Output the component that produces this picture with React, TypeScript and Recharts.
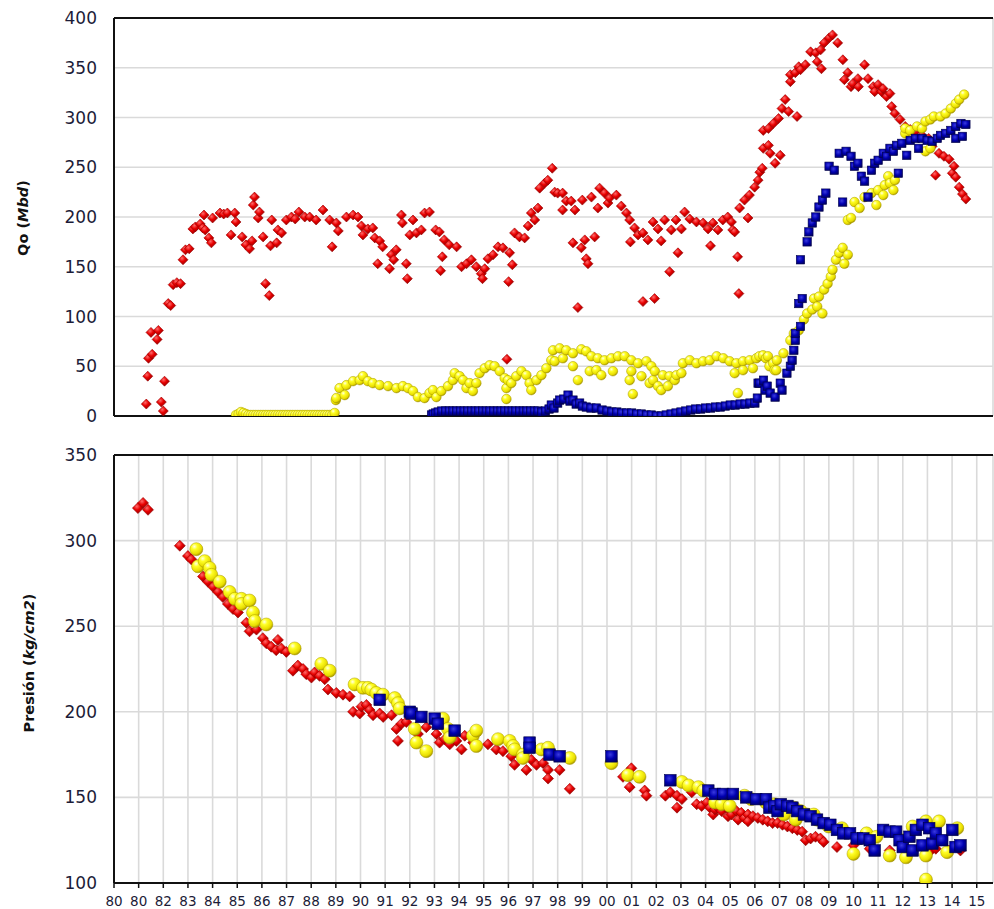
import React from 'react'
import { ScatterChart, Scatter, XAxis, YAxis, CartesianGrid, ReferenceLine } from 'recharts'

// shared x axis (years), labels as printed on the original
const X_TICKS = [1980, 1981, 1982, 1983, 1984, 1985, 1986, 1987, 1988, 1989, 1990, 1991, 1992, 1993, 1994, 1995, 1996, 1997, 1998, 1999, 2000, 2001, 2002, 2003, 2004, 2005, 2006, 2007, 2008, 2009, 2010, 2011, 2012, 2013, 2014, 2015]
const X_LABELS = ['80', '80', '82', '83', '84', '85', '86', '87', '88', '89', '90', '91', '92', '93', '94', '95', '96', '97', '98', '99', '00', '01', '02', '03', '04', '05', '06', '07', '08', '09', '10', '11', '12', '13', '14', '15']
const QO_TICKS = [0, 50, 100, 150, 200, 250, 300, 350, 400]
const P_TICKS = [100, 150, 200, 250, 300, 350]

// Qo (Mbd) - [year, value]
const QO_RED: number[][] = [
  [1981.31, 12], [1981.37, 40], [1981.4, 58], [1981.55, 62], [1981.5, 84], [1981.75, 77], [1981.8, 86], [1981.92, 14], [1982.0, 5], [1982.05, 35],
  [1982.2, 113], [1982.3, 111], [1982.4, 132], [1982.55, 134], [1982.7, 133], [1982.8, 157], [1982.9, 167], [1983.05, 168], [1983.2, 188], [1983.3, 190],
  [1983.5, 193], [1983.6, 189], [1983.65, 202], [1983.7, 187], [1983.85, 179], [1983.95, 174], [1984.0, 199], [1984.3, 204], [1984.45, 203], [1984.6, 204],
  [1984.75, 182], [1984.9, 204], [1984.95, 195], [1985.2, 180], [1985.35, 172], [1985.5, 168], [1985.6, 176], [1985.65, 212], [1985.7, 220], [1985.85, 199],
  [1985.9, 205], [1986.05, 180], [1986.15, 133], [1986.3, 121], [1986.35, 171], [1986.4, 197], [1986.6, 174], [1986.65, 187], [1986.8, 184], [1986.99, 197],
  [1987.2, 200], [1987.35, 198], [1987.5, 205], [1987.74, 200], [1987.94, 200], [1988.2, 197], [1988.48, 207], [1988.75, 197], [1988.85, 170], [1989.02, 194],
  [1989.1, 186], [1989.43, 200], [1989.7, 202], [1989.9, 200], [1990.04, 191], [1990.1, 182], [1990.3, 188], [1990.5, 189], [1990.58, 179], [1990.7, 153],
  [1990.78, 176], [1990.9, 170], [1991.18, 148], [1991.25, 162], [1991.35, 157], [1991.45, 167], [1991.66, 202], [1991.7, 194], [1991.86, 153], [1991.9, 138],
  [1992.0, 182], [1992.13, 197], [1992.27, 184], [1992.47, 187], [1992.6, 204], [1992.8, 205], [1993.05, 187], [1993.2, 185], [1993.25, 146], [1993.32, 160],
  [1993.4, 177], [1993.6, 172], [1993.9, 170], [1994.1, 150], [1994.3, 153], [1994.5, 157], [1994.7, 150], [1994.9, 143], [1994.95, 138], [1995.04, 148],
  [1995.17, 158], [1995.38, 162], [1995.58, 170], [1995.78, 169], [1995.94, 57], [1996.01, 135], [1996.05, 164], [1996.16, 152], [1996.25, 184], [1996.45, 180],
  [1996.66, 179], [1996.8, 191], [1996.93, 204], [1997.07, 197], [1997.2, 209], [1997.27, 229], [1997.47, 234], [1997.6, 237], [1997.78, 249], [1997.88, 225],
  [1998.0, 224], [1998.2, 224], [1998.2, 207], [1998.35, 216], [1998.55, 216], [1998.62, 174], [1998.7, 207], [1998.82, 109], [1998.96, 169], [1999.0, 217],
  [1999.1, 177], [1999.16, 158], [1999.23, 153], [1999.37, 220], [1999.5, 180], [1999.63, 209], [1999.7, 229], [1999.9, 224], [2000.04, 214], [2000.1, 219],
  [2000.38, 222], [2000.58, 211], [2000.79, 204], [2000.92, 197], [2000.95, 175], [2001.12, 189], [2001.26, 182], [2001.46, 184], [2001.46, 115], [2001.66, 177],
  [2001.87, 195], [2001.93, 118], [2002.07, 188], [2002.2, 176], [2002.34, 197], [2002.54, 145], [2002.61, 187], [2002.8, 197], [2002.88, 164], [2003.02, 188],
  [2003.15, 205], [2003.36, 198], [2003.63, 195], [2003.9, 194], [2004.1, 188], [2004.2, 171], [2004.3, 194], [2004.5, 187], [2004.7, 197], [2004.9, 200],
  [2005.05, 195], [2005.1, 187], [2005.18, 185], [2005.3, 160], [2005.35, 123], [2005.38, 209], [2005.58, 217], [2005.72, 199], [2005.78, 222], [2005.99, 230],
  [2006.13, 237], [2006.2, 245], [2006.3, 249], [2006.34, 269], [2006.34, 287], [2006.55, 272], [2006.55, 289], [2006.62, 264], [2006.75, 294], [2006.82, 254],
  [2006.96, 299], [2007.03, 262], [2007.1, 309], [2007.23, 318], [2007.37, 306], [2007.44, 336], [2007.44, 343], [2007.64, 345], [2007.71, 301], [2007.78, 351],
  [2007.85, 348], [2008.05, 353], [2008.26, 366], [2008.47, 365], [2008.53, 356], [2008.67, 368], [2008.7, 349], [2008.81, 375], [2009.01, 380], [2009.15, 383],
  [2009.36, 375], [2009.57, 358], [2009.63, 338], [2009.77, 345], [2009.9, 331], [2009.97, 334], [2010.18, 339], [2010.2, 331], [2010.45, 353], [2010.59, 339],
  [2010.8, 331], [2010.86, 326], [2011.0, 333], [2011.14, 326], [2011.2, 329], [2011.34, 321], [2011.48, 324], [2011.55, 311], [2011.68, 304], [2011.89, 298],
  [2012.1, 291], [2012.3, 288], [2012.5, 286], [2012.78, 282], [2013.05, 279], [2013.19, 271], [2013.33, 242], [2013.47, 264], [2013.67, 261], [2013.88, 258],
  [2014.01, 244], [2014.08, 251], [2014.15, 240], [2014.29, 230], [2014.42, 223], [2014.56, 218],
]

const QO_YELLOW: number[][] = [
  [1984.95, 1], [1985.05, 2], [1985.15, 4], [1985.25, 3], [1985.35, 2], [1985.45, 1], [1985.55, 1], [1985.65, 1], [1985.75, 1], [1985.85, 1],
  [1985.95, 1], [1986.05, 1], [1986.15, 1], [1986.25, 1], [1986.35, 1], [1986.45, 1], [1986.55, 1], [1986.65, 1], [1986.75, 1], [1986.85, 1],
  [1986.95, 1], [1987.05, 1], [1987.15, 1], [1987.25, 1], [1987.35, 1], [1987.45, 1], [1987.55, 1], [1987.65, 1], [1987.75, 1], [1987.85, 1],
  [1987.95, 1], [1988.05, 1], [1988.15, 1], [1988.25, 1], [1988.35, 1], [1988.45, 1], [1988.55, 1], [1988.65, 1], [1988.75, 1], [1988.85, 1],
  [1988.95, 3], [1989.0, 16], [1989.02, 18], [1989.15, 28], [1989.36, 21], [1989.43, 31], [1989.7, 35], [1989.97, 36], [1990.1, 40], [1990.3, 35],
  [1990.5, 33], [1990.78, 31], [1991.12, 30], [1991.46, 28], [1991.72, 30], [1991.93, 28], [1992.13, 25], [1992.33, 19], [1992.6, 18], [1992.8, 23],
  [1992.94, 26], [1993.08, 19], [1993.28, 25], [1993.55, 30], [1993.75, 36], [1993.82, 43], [1994.02, 40], [1994.16, 36], [1994.3, 28], [1994.43, 33],
  [1994.56, 25], [1994.7, 33], [1994.83, 43], [1995.04, 48], [1995.24, 51], [1995.44, 50], [1995.65, 45], [1995.85, 38], [1995.92, 28], [1995.92, 17],
  [1995.98, 36], [1996.12, 33], [1996.32, 40], [1996.53, 45], [1996.73, 41], [1996.86, 33], [1996.93, 26], [1997.14, 36], [1997.34, 41], [1997.54, 48],
  [1997.74, 56], [1997.81, 66], [1997.88, 55], [1998.08, 68], [1998.21, 58], [1998.35, 66], [1998.62, 63], [1998.62, 50], [1998.82, 36], [1998.96, 67],
  [1999.16, 65], [1999.3, 45], [1999.37, 60], [1999.57, 46], [1999.63, 58], [1999.77, 41], [1999.9, 56], [2000.18, 58], [2000.24, 45], [2000.45, 60],
  [2000.72, 60], [2000.92, 36], [2000.99, 56], [2000.99, 45], [2001.05, 22], [2001.26, 53], [2001.4, 40], [2001.6, 55], [2001.73, 33], [2001.8, 50],
  [2001.87, 36], [2001.94, 45], [2002.07, 30], [2002.2, 26], [2002.27, 41], [2002.47, 30], [2002.54, 40], [2002.75, 36], [2002.82, 41], [2003.02, 43],
  [2003.08, 53], [2003.36, 56], [2003.63, 53], [2003.9, 55], [2004.17, 56], [2004.45, 60], [2004.72, 58], [2004.98, 55], [2005.18, 43], [2005.25, 53],
  [2005.31, 23], [2005.52, 55], [2005.52, 46], [2005.79, 56], [2005.92, 48], [2006.06, 58], [2006.18, 60], [2006.33, 61], [2006.45, 58], [2006.53, 60],
  [2006.59, 50], [2006.74, 53], [2006.8, 46], [2006.87, 46], [2006.89, 56], [2007.16, 63], [2007.44, 76], [2007.58, 83], [2007.78, 86], [2007.99, 97],
  [2008.12, 103], [2008.33, 107], [2008.4, 118], [2008.53, 110], [2008.6, 120], [2008.74, 103], [2008.81, 127], [2008.95, 133], [2009.08, 140], [2009.15, 147],
  [2009.29, 157], [2009.42, 164], [2009.56, 169], [2009.63, 153], [2009.77, 162], [2009.77, 197], [2009.9, 199], [2010.04, 215], [2010.25, 209], [2010.45, 220],
  [2010.73, 224], [2010.93, 212], [2011.0, 227], [2011.21, 222], [2011.27, 232], [2011.41, 241], [2011.48, 234], [2011.62, 227], [2011.68, 237], [2012.1, 284],
  [2012.1, 289], [2012.3, 287], [2012.58, 291], [2012.78, 289], [2012.92, 296], [2012.92, 266], [2013.12, 298], [2013.12, 269], [2013.26, 301], [2013.53, 301],
  [2013.74, 304], [2013.95, 309], [2014.15, 314], [2014.29, 318], [2014.49, 323],
]

const QO_BLUE: number[][] = [
  [1992.88, 1], [1992.95, 2], [1993.05, 3], [1993.15, 4], [1993.3, 5], [1993.45, 5], [1993.6, 5], [1993.75, 5], [1993.9, 5], [1994.05, 5],
  [1994.2, 5], [1994.35, 5], [1994.5, 5], [1994.65, 5], [1994.8, 5], [1994.95, 5], [1995.1, 5], [1995.25, 5], [1995.4, 5], [1995.55, 5],
  [1995.7, 5], [1995.85, 5], [1996.0, 5], [1996.15, 5], [1996.3, 5], [1996.45, 5], [1996.6, 5], [1996.75, 5], [1996.9, 5], [1997.05, 5],
  [1997.2, 5], [1997.35, 4], [1997.5, 5], [1997.65, 7], [1997.74, 11], [1997.85, 8], [1998.0, 13], [1998.08, 16], [1998.25, 17], [1998.42, 21],
  [1998.5, 15], [1998.62, 16], [1998.75, 12], [1998.89, 13], [1999.0, 10], [1999.16, 9], [1999.35, 8], [1999.57, 8], [1999.8, 6], [2000.0, 5],
  [2000.2, 4], [2000.4, 4], [2000.6, 3], [2000.8, 3], [2001.0, 3], [2001.2, 2], [2001.4, 2], [2001.6, 1], [2001.8, 1], [2002.0, 0],
  [2002.2, 0], [2002.4, 1], [2002.6, 2], [2002.8, 3], [2003.0, 4], [2003.2, 5], [2003.4, 6], [2003.6, 7], [2003.8, 7], [2004.0, 8],
  [2004.2, 8], [2004.4, 9], [2004.6, 9], [2004.8, 10], [2005.0, 11], [2005.2, 11], [2005.4, 12], [2005.6, 12], [2005.8, 13], [2006.0, 13],
  [2006.1, 18], [2006.13, 33], [2006.2, 33], [2006.35, 36], [2006.41, 26], [2006.5, 30], [2006.62, 23], [2006.82, 19], [2007.03, 33], [2007.1, 26],
  [2007.3, 43], [2007.44, 50], [2007.51, 56], [2007.58, 66], [2007.64, 76], [2007.64, 83], [2007.78, 113], [2007.85, 90], [2007.85, 157], [2007.92, 118],
  [2008.12, 175], [2008.19, 185], [2008.33, 194], [2008.47, 200], [2008.6, 210], [2008.74, 217], [2008.88, 224], [2009.01, 251], [2009.22, 247], [2009.42, 264],
  [2009.56, 215], [2009.7, 266], [2009.9, 261], [2010.04, 251], [2010.18, 254], [2010.32, 241], [2010.45, 236], [2010.59, 220], [2010.73, 247], [2010.86, 254],
  [2011.0, 257], [2011.21, 264], [2011.34, 261], [2011.48, 269], [2011.62, 266], [2011.75, 272], [2011.82, 244], [2011.96, 274], [2012.16, 262], [2012.3, 277],
  [2012.51, 279], [2012.64, 269], [2012.78, 279], [2012.99, 277], [2013.19, 276], [2013.4, 279], [2013.53, 282], [2013.74, 284], [2013.95, 287], [2014.15, 291],
  [2014.15, 279], [2014.36, 294], [2014.42, 281], [2014.56, 293],
]

// Presión (kg/cm2) - [year, value]
const P_RED: number[][] = [
  [1980.97, 319], [1981.18, 322], [1981.38, 318], [1982.67, 297], [1983.0, 291], [1983.14, 289], [1983.61, 279], [1983.81, 276], [1984.02, 273], [1984.22, 270],
  [1984.42, 267], [1984.62, 263], [1984.83, 260], [1985.03, 258], [1985.37, 252], [1985.5, 247], [1985.78, 248], [1986.04, 243], [1986.18, 240], [1986.38, 238],
  [1986.58, 236], [1986.65, 242], [1986.79, 237], [1986.99, 235], [1987.26, 224], [1987.46, 227], [1987.67, 225], [1987.8, 222], [1988.01, 220], [1988.14, 223],
  [1988.34, 221], [1988.55, 219], [1988.68, 213], [1989.02, 211], [1989.29, 210], [1989.56, 209], [1989.7, 200], [1989.97, 199], [1990.04, 203], [1990.24, 204],
  [1990.37, 201], [1990.51, 198], [1990.78, 199], [1990.92, 197], [1991.26, 198], [1991.46, 190], [1991.52, 183], [1991.66, 193], [1991.86, 194], [1992.33, 187],
  [1992.67, 191], [1993.08, 187], [1993.21, 182], [1993.42, 184], [1993.62, 181], [1993.89, 183], [1994.1, 178], [1994.23, 186], [1994.57, 182], [1995.17, 181],
  [1995.51, 178], [1995.78, 177], [1996.12, 174], [1996.25, 169], [1996.53, 175], [1996.73, 166], [1996.93, 172], [1997.14, 169], [1997.41, 170], [1997.61, 166],
  [1997.61, 161], [1998.08, 166], [1998.49, 155], [2000.65, 162], [2000.92, 156], [2000.99, 167], [2001.53, 154], [2001.6, 151], [2002.37, 151], [2002.57, 153],
  [2002.84, 151], [2002.84, 144], [2003.04, 149], [2003.44, 153], [2003.64, 146], [2003.84, 145], [2004.05, 147], [2004.18, 144], [2004.31, 140], [2004.38, 143],
  [2004.51, 144], [2004.58, 150], [2004.65, 142], [2004.85, 144], [2004.91, 139], [2004.98, 143], [2005.05, 140], [2005.25, 142], [2005.32, 137], [2005.45, 141],
  [2005.58, 138], [2005.72, 140], [2005.72, 136], [2005.92, 139], [2006.12, 138], [2006.32, 137], [2006.52, 136], [2006.72, 135], [2006.92, 135], [2007.12, 134],
  [2007.32, 133], [2007.52, 132], [2007.72, 131], [2007.92, 130], [2008.06, 125], [2008.26, 126], [2008.46, 127], [2008.66, 126], [2008.79, 124], [2009.33, 121],
  [2010.0, 122], [2010.66, 120], [2011.47, 119], [2012.27, 119], [2013.07, 118], [2013.34, 120], [2013.87, 119], [2014.34, 119],
]

const P_YELLOW: number[][] = [
  [1983.34, 295], [1983.41, 285], [1983.68, 288], [1983.88, 284], [1983.95, 280], [1984.29, 276], [1984.69, 270], [1984.9, 266], [1985.17, 266], [1985.17, 263],
  [1985.5, 265], [1985.64, 258], [1985.71, 253], [1986.18, 251], [1987.33, 237], [1988.41, 228], [1988.75, 224], [1989.76, 216], [1990.1, 214], [1990.3, 214],
  [1990.44, 213], [1990.64, 211], [1990.91, 210], [1991.39, 208], [1991.52, 205], [1991.59, 202], [1992.2, 190], [1992.27, 182], [1992.67, 177], [1993.35, 196],
  [1993.55, 190], [1993.62, 185], [1994.56, 186], [1994.7, 189], [1994.7, 180], [1995.58, 184], [1996.05, 183], [1996.19, 180], [1996.25, 178], [1996.59, 175],
  [1996.59, 173], [1997.34, 178], [1997.61, 179], [1998.49, 173], [2000.18, 170], [2000.85, 163], [2001.32, 162], [2003.04, 159], [2003.31, 157], [2003.71, 156],
  [2003.91, 154], [2004.38, 147], [2004.65, 146], [2004.98, 145], [2005.58, 151], [2005.85, 149], [2006.45, 147], [2006.79, 146], [2007.19, 144], [2007.19, 140],
  [2007.59, 144], [2007.66, 137], [2007.86, 142], [2008.12, 140], [2008.39, 140], [2008.52, 137], [2008.99, 133], [2009.53, 132], [2010.0, 117], [2010.53, 129],
  [2010.93, 127], [2011.47, 116], [2012.0, 125], [2012.13, 115], [2012.4, 133], [2012.94, 136], [2012.94, 116], [2012.94, 102], [2013.47, 136], [2013.8, 118],
  [2014.21, 132],
]

const P_BLUE: number[][] = [
  [1990.78, 207], [1992.0, 200], [1992.07, 199], [1992.47, 197], [1993.01, 196], [1993.14, 193], [1993.82, 189], [1996.86, 182], [1996.86, 179], [1997.67, 175],
  [1998.08, 174], [2000.18, 174], [2002.57, 160], [2004.11, 154], [2004.38, 152], [2004.71, 152], [2005.11, 152], [2005.65, 150], [2006.05, 149], [2006.45, 149],
  [2006.59, 144], [2006.79, 145], [2006.92, 142], [2007.05, 146], [2007.32, 145], [2007.52, 144], [2007.72, 142], [2007.99, 140], [2008.26, 139], [2008.52, 137],
  [2008.79, 135], [2009.06, 134], [2009.33, 131], [2009.59, 129], [2009.86, 129], [2010.13, 126], [2010.4, 126], [2010.66, 125], [2010.86, 119], [2011.2, 131],
  [2011.47, 130], [2011.73, 130], [2011.87, 125], [2012.0, 121], [2012.27, 127], [2012.4, 119], [2012.53, 131], [2012.8, 134], [2012.8, 122], [2013.07, 132],
  [2013.2, 123], [2013.34, 129], [2013.6, 125], [2014.01, 131], [2014.14, 121], [2014.34, 122],
]

const toPoints = (rows: number[][]) => rows.map(([x, y]) => ({ x, y }))

const X_DOMAIN = [1980, 2015.66]
const FONT = '"DejaVu Sans", Verdana, sans-serif'
const TEXT = '#1c1c38'
const GRID = '#dadada'

const diamond = (s: number) => (p: any) => {
  const { cx, cy } = p
  if (cx == null || cy == null) return <g />
  return (
    <polygon
      points={`${cx},${cy - s} ${cx + s},${cy} ${cx},${cy + s} ${cx - s},${cy}`}
      fill="url(#gRed)" stroke="#9a0000" strokeWidth={0.6}
    />
  )
}

const sphere = (r: number) => (p: any) => {
  const { cx, cy } = p
  if (cx == null || cy == null) return <g />
  return <circle cx={cx} cy={cy} r={r} fill="url(#gYel)" stroke="#a89a00" strokeWidth={0.5} />
}

const square = (s: number) => (p: any) => {
  const { cx, cy } = p
  if (cx == null || cy == null) return <g />
  return <rect x={cx - s} y={cy - s} width={2 * s} height={2 * s} fill="url(#gBlue)" stroke="#00004a" strokeWidth={0.6} />
}

function Panel({ top, height, marginTop, xAxisHeight, yDomain, yTicks, showXLabels, red, yellow, blue, big }: any) {
  return (
    <div style={{ position: 'absolute', left: 0, top }}>
      <ScatterChart width={994} height={height} margin={{ top: marginTop, right: 1, bottom: 0, left: 0 }}>
        <CartesianGrid stroke={GRID} strokeWidth={1.6} />
        <XAxis
          type="number" dataKey="x" domain={X_DOMAIN} ticks={X_TICKS} allowDataOverflow
          height={xAxisHeight} interval={0}
          axisLine={{ stroke: '#111', strokeWidth: 2 }}
          tickLine={{ stroke: '#111', strokeWidth: 1.5 }} tickSize={5} tickMargin={8}
          tick={showXLabels ? { fill: TEXT, fontSize: 13.5, fontFamily: FONT } : false}
          tickFormatter={(v: number) => X_LABELS[X_TICKS.indexOf(v)] ?? ''}
        />
        <YAxis
          type="number" dataKey="y" domain={yDomain} ticks={yTicks} allowDataOverflow
          width={114} interval={0}
          axisLine={{ stroke: '#111', strokeWidth: 2 }}
          tickLine={false} tickSize={0} tickMargin={17}
          tick={{ fill: TEXT, fontSize: 17, fontFamily: FONT }}
        />
        <ReferenceLine y={yDomain[1]} stroke="#111" strokeWidth={2} />
        <Scatter data={toPoints(red)} shape={diamond(big ? 5.5 : 5)} isAnimationActive={false} />
        <Scatter data={toPoints(yellow)} shape={sphere(big ? 6.5 : 4.8)} isAnimationActive={false} />
        <Scatter data={toPoints(blue)} shape={square(big ? 5.8 : 4.2)} isAnimationActive={false} />
      </ScatterChart>
    </div>
  )
}

export default function App() {
  return (
    <div style={{ position: 'absolute', left: 0, top: 0, width: 994, height: 909, background: '#fff', overflow: 'hidden' }}>
      <svg width={0} height={0} style={{ position: 'absolute' }}>
        <defs>
          <radialGradient id="gRed" cx="40%" cy="35%" r="70%">
            <stop offset="0%" stopColor="#ff6a6a" />
            <stop offset="45%" stopColor="#e80000" />
            <stop offset="100%" stopColor="#8c0000" />
          </radialGradient>
          <radialGradient id="gYel" cx="35%" cy="30%" r="75%">
            <stop offset="0%" stopColor="#ffffe6" />
            <stop offset="30%" stopColor="#ffff26" />
            <stop offset="75%" stopColor="#e8dc00" />
            <stop offset="100%" stopColor="#9c8c00" />
          </radialGradient>
          <radialGradient id="gBlue" cx="40%" cy="35%" r="75%">
            <stop offset="0%" stopColor="#3a3ae0" />
            <stop offset="50%" stopColor="#0000b0" />
            <stop offset="100%" stopColor="#00005c" />
          </radialGradient>
        </defs>
      </svg>
      <Panel top={0} height={430} marginTop={18} xAxisHeight={14} yDomain={[0, 400]} yTicks={QO_TICKS}
        showXLabels={false} red={QO_RED} yellow={QO_YELLOW} blue={QO_BLUE} big={false} />
      <Panel top={430} height={479} marginTop={25} xAxisHeight={26} yDomain={[100, 350]} yTicks={P_TICKS}
        showXLabels red={P_RED} yellow={P_YELLOW} blue={P_BLUE} big />
      <svg width={994} height={909} style={{ position: 'absolute', left: 0, top: 0, pointerEvents: 'none' }}>
        <text x={23} y={218} transform="rotate(-90 23 218)" textAnchor="middle" dominantBaseline="central"
          fontFamily={FONT} fontWeight="bold" fontSize={14.5} fill="#111">
          Qo (<tspan fontStyle="italic">Mbd</tspan>)
        </text>
        <text x={29} y={663} transform="rotate(-90 29 663)" textAnchor="middle" dominantBaseline="central"
          fontFamily={FONT} fontWeight="bold" fontSize={14.5} fill="#111">
          Presión (<tspan fontStyle="italic">kg/cm2</tspan>)
        </text>
      </svg>
    </div>
  )
}
